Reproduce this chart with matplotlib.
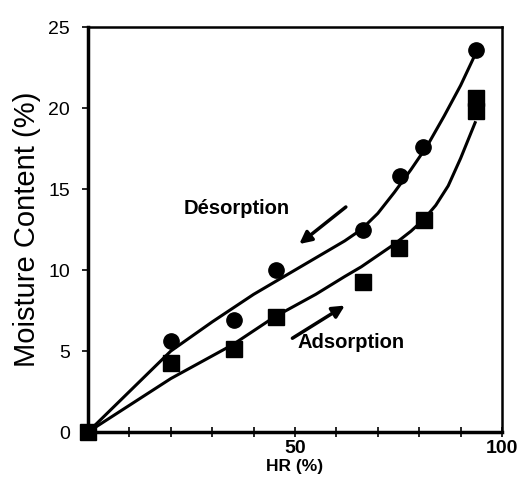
import numpy as np
import matplotlib
matplotlib.use('Agg')
import matplotlib.pyplot as plt

plt.rcParams['font.family'] = ['Liberation Sans', 'DejaVu Sans']

# Measured points (HR %, moisture content %)
hr_des = [0, 20, 35.3, 45.4, 66.4, 75.4, 81.0, 93.7]
mc_des = [0, 5.6, 6.9, 10.0, 12.5, 15.8, 17.6, 23.6]

hr_ads = [0, 20, 35.3, 45.4, 66.4, 75.1, 81.2, 93.7, 93.7]
mc_ads = [0, 4.25, 5.1, 7.1, 9.25, 11.35, 13.1, 20.6, 19.8]

# Fitted curves
hr_des_fit = [0, 20, 30, 40, 50, 58, 62, 66, 70, 74, 78, 82, 86, 90, 93.5]
mc_des_fit = [0, 5.0, 6.8, 8.5, 10.0, 11.2, 11.8, 12.5, 13.5, 14.8, 16.2, 17.7, 19.5, 21.4, 23.3]

hr_ads_fit = [0, 20, 35, 45, 55, 62, 66, 70, 74, 78, 81, 84, 87, 90, 93.5]
mc_ads_fit = [0, 3.3, 5.4, 7.1, 8.5, 9.6, 10.2, 10.9, 11.6, 12.4, 13.1, 14.0, 15.2, 16.9, 19.1]

fig = plt.figure(figsize=(5.19, 4.84), dpi=100)
ax = fig.add_axes([0.1696, 0.1074, 0.7977, 0.8366])

ax.plot(hr_des_fit, mc_des_fit, color='black', lw=2.2)
ax.plot(hr_ads_fit, mc_ads_fit, color='black', lw=2.2)
ax.plot(hr_des, mc_des, 'o', color='black', ms=11, clip_on=False)
ax.plot(hr_ads, mc_ads, 's', color='black', ms=11, clip_on=False)

# arrows and labels
ax.annotate('', xy=(50.5, 11.5), xytext=(62.8, 14.0),
            arrowprops=dict(arrowstyle='-|>', color='black', lw=2.5,
                            mutation_scale=18))
ax.annotate('', xy=(62.6, 7.9), xytext=(48.8, 5.7),
            arrowprops=dict(arrowstyle='-|>', color='black', lw=2.5,
                            mutation_scale=18))
ax.text(23, 13.8, 'Désorption', fontsize=14.5, fontweight='bold', va='center')
ax.text(50.7, 5.55, 'Adsorption', fontsize=14.5, fontweight='bold', va='center')

ax.set_xlim(0, 100)
ax.set_ylim(0, 25)
ax.set_xticks([50, 100])
ax.set_xticklabels(['50', '100'], fontweight='bold', fontsize=14)
ax.set_xticks(np.arange(10, 100, 10), minor=True)
ax.set_yticks([0, 5, 10, 15, 20, 25])
ax.set_yticklabels(['0', '5', '10', '15', '20', '25'], fontsize=14)
ax.tick_params(axis='x', which='both', direction='inout', length=7, width=1.2, pad=2)
ax.tick_params(axis='y', direction='out', length=4, width=1.2, pad=9)

for side in ['left', 'bottom']:
    ax.spines[side].set_linewidth(2.5)
for side in ['right', 'top']:
    ax.spines[side].set_linewidth(1.8)

ax.set_xlabel('HR (%)', fontweight='bold', fontsize=12.5, labelpad=2)
ax.set_ylabel('Moisture Content (%)', fontsize=21, labelpad=5)

fig.savefig('out.png', dpi=100)
